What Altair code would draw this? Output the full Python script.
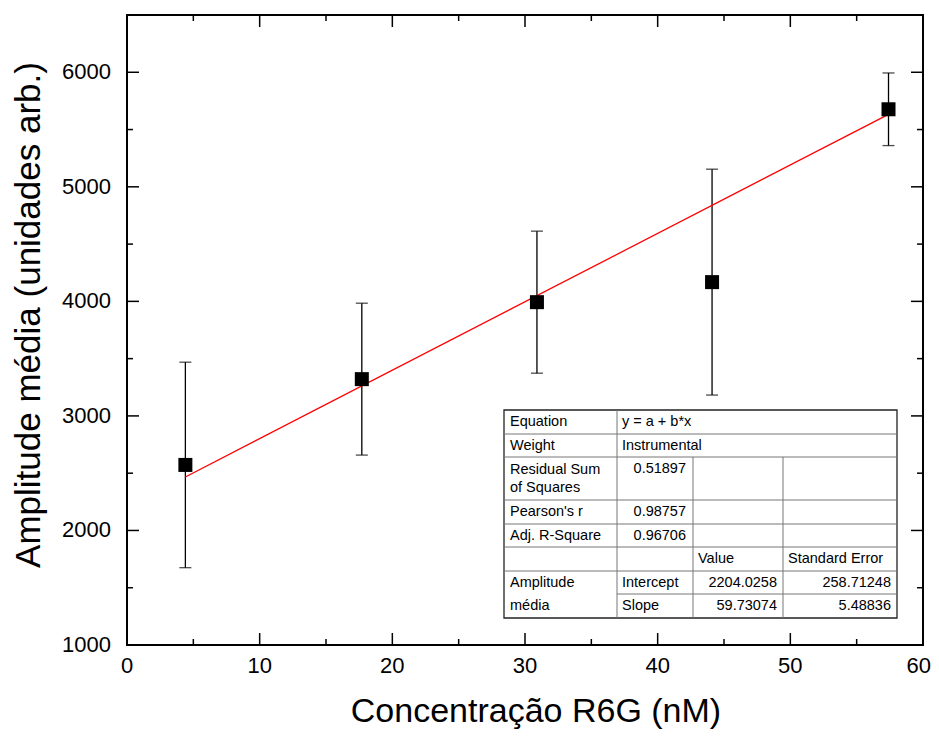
import altair as alt
import pandas as pd

# ---------------- data ----------------
conc = [4.4, 17.7, 30.9, 44.1, 57.4]            # Concentração R6G (nM)
amp = [2572, 3321, 3993, 4168, 5677]            # Amplitude média
amp_err = [897, 663, 620, 986, 317]             # error bars

fit_intercept = 2204.0258
fit_slope = 59.73074
fit_intercept_err = 258.71248
fit_slope_err = 5.48836

x_major = [0, 10, 20, 30, 40, 50, 60]
x_minor = [5, 15, 25, 35, 45, 55]
y_major = [1000, 2000, 3000, 4000, 5000, 6000]
y_minor = [1500, 2500, 3500, 4500, 5500]
x_labels = ["0", "10", "20", "30", "40", "50", "60"]
y_labels = ["1000", "2000", "3000", "4000", "5000", "6000"]

x_title = "Concentração R6G (nM)"
y_title = "Amplitude média (unidades arb.)"

stat_equation = "y = a + b*x"
stat_weight = "Instrumental"
stat_rss = "0.51897"
stat_pearson = "0.98757"
stat_adjr2 = "0.96706"

FONT = "Liberation Sans"
W, H = 796, 630
X0, X1 = 0, 60
Y0, Y1 = 1000, 6500

df = pd.DataFrame({"conc": conc, "amp": amp, "err": amp_err})
df_fit = pd.DataFrame({"conc": [min(conc), max(conc)]})
df_fit["fit"] = fit_intercept + fit_slope * df_fit["conc"]

xs = alt.Scale(domain=[X0, X1], nice=False, zero=False)
ys = alt.Scale(domain=[Y0, Y1], nice=False, zero=False)

err = alt.Chart(df).mark_errorbar(ticks=True, size=12, thickness=1.3, color="black").encode(
    x=alt.X("conc:Q", scale=xs, axis=None),
    y=alt.Y("amp:Q", scale=ys, axis=None),
    yError=alt.YError("err:Q"),
)

fit = alt.Chart(df_fit).mark_line(color="#ff0000", strokeWidth=1.3).encode(
    x=alt.X("conc:Q", scale=xs, axis=None),
    y=alt.Y("fit:Q", scale=ys, axis=None),
)

pts = alt.Chart(df).mark_square(size=196, color="black", opacity=1, filled=True).encode(
    x=alt.X("conc:Q", scale=xs, axis=None),
    y=alt.Y("amp:Q", scale=ys, axis=None),
)

# ---------------- axes: inward ticks on all four sides, labels, titles ----------------
def x_ticks(vals, L):
    d = pd.DataFrame({"v": vals})
    b = alt.Chart(d).mark_rule(color="black", strokeWidth=1.5).encode(
        x=alt.X("v:Q", scale=xs, axis=None), y=alt.value(H), y2=alt.value(H - L))
    t = alt.Chart(d).mark_rule(color="black", strokeWidth=1.5).encode(
        x=alt.X("v:Q", scale=xs, axis=None), y=alt.value(0), y2=alt.value(L))
    return [b, t]

def y_ticks(vals, L):
    d = pd.DataFrame({"v": vals})
    l = alt.Chart(d).mark_rule(color="black", strokeWidth=1.5).encode(
        y=alt.Y("v:Q", scale=ys, axis=None), x=alt.value(0), x2=alt.value(L))
    r = alt.Chart(d).mark_rule(color="black", strokeWidth=1.5).encode(
        y=alt.Y("v:Q", scale=ys, axis=None), x=alt.value(W), x2=alt.value(W - L))
    return [l, r]

tick_layers = x_ticks(x_major, 12) + x_ticks(x_minor, 6) + y_ticks(y_major, 12) + y_ticks(y_minor, 6)

df_xl = pd.DataFrame({"v": x_major, "t": x_labels})
xlab_mid = alt.Chart(df_xl.iloc[:-1]).mark_text(
    font=FONT, fontSize=22, color="black", align="center", baseline="top").encode(
    x=alt.X("v:Q", scale=xs, axis=None), y=alt.value(H + 11), text="t:N")
xlab_last = alt.Chart(df_xl.iloc[-1:]).mark_text(
    font=FONT, fontSize=22, color="black", align="right", baseline="top", dx=8).encode(
    x=alt.X("v:Q", scale=xs, axis=None), y=alt.value(H + 11), text="t:N")

df_yl = pd.DataFrame({"v": y_major, "t": y_labels})
ylab = alt.Chart(df_yl).mark_text(
    font=FONT, fontSize=22, color="black", align="right", baseline="middle").encode(
    y=alt.Y("v:Q", scale=ys, axis=None), x=alt.value(-16), text="t:N")

xtitle = alt.Chart(pd.DataFrame({"t": [x_title]})).mark_text(
    font=FONT, fontSize=34, color="black", align="center", baseline="alphabetic").encode(
    x=alt.value(409), y=alt.value(H + 77), text="t:N")
ytitle = alt.Chart(pd.DataFrame({"t": [y_title]})).mark_text(
    font=FONT, fontSize=35, color="black", align="center", baseline="alphabetic", angle=270).encode(
    x=alt.value(-87), y=alt.value(300), text="t:N")

# ---------------- results table (laid out in plot-area pixels, mapped to data units) ----------------
def px2x(px):
    return X0 + px / W * (X1 - X0)

def py2y(py):
    return Y1 - py / H * (Y1 - Y0)

cols = [377, 490, 566, 656, 770]
rows = [395, 419, 442, 485, 509, 532, 556, 579, 603]

box = alt.Chart(pd.DataFrame({"x1": [px2x(cols[0])], "x2": [px2x(cols[-1])],
                              "y1": [py2y(rows[0])], "y2": [py2y(rows[-1])]})).mark_rect(
    fill="white", stroke="#222222", strokeWidth=1.3).encode(
    x=alt.X("x1:Q", scale=xs, axis=None), x2="x2:Q",
    y=alt.Y("y1:Q", scale=ys, axis=None), y2="y2:Q")

segs = []
for r in rows[1:7]:
    segs.append((cols[0], r, cols[-1], r))
segs.append((cols[1], rows[7], cols[-1], rows[7]))
segs.append((cols[1], rows[0], cols[1], rows[-1]))
segs.append((cols[2], rows[2], cols[2], rows[-1]))
segs.append((cols[3], rows[2], cols[3], rows[-1]))
df_segs = pd.DataFrame([(px2x(a), py2y(b), px2x(c), py2y(d)) for a, b, c, d in segs],
                       columns=["x1", "y1", "x2", "y2"])
grid = alt.Chart(df_segs).mark_rule(color="#777777", strokeWidth=1).encode(
    x=alt.X("x1:Q", scale=xs, axis=None), x2="x2:Q",
    y=alt.Y("y1:Q", scale=ys, axis=None), y2="y2:Q")

lx1, lx2, lx3, lx4 = cols[0] + 6, cols[1] + 5, cols[2] + 5, cols[3] + 5
rx2, rx3, rx4 = cols[2] - 7, cols[3] - 6, cols[4] - 6
rc = [(rows[i] + rows[i + 1]) / 2 for i in range(len(rows) - 1)]

left_cells = [
    ("Equation", lx1, rc[0]), (stat_equation, lx2, rc[0]),
    ("Weight", lx1, rc[1]), (stat_weight, lx2, rc[1]),
    ("Residual Sum", lx1, rows[2] + 13), ("of Squares", lx1, rows[2] + 31),
    ("Pearson's r", lx1, rc[3]),
    ("Adj. R-Square", lx1, rc[4]),
    ("Value", lx3, rc[5]), ("Standard Error", lx4, rc[5]),
    ("Amplitude", lx1, rc[6]), ("Intercept", lx2, rc[6]),
    ("média", lx1, rc[7]), ("Slope", lx2, rc[7]),
]
right_cells = [
    (stat_rss, rx2, rows[2] + 12),
    (stat_pearson, rx2, rc[3]),
    (stat_adjr2, rx2, rc[4]),
    (f"{fit_intercept:.4f}", rx3, rc[6]), (f"{fit_intercept_err:.5f}", rx4, rc[6]),
    (f"{fit_slope:.5f}", rx3, rc[7]), (f"{fit_slope_err:.5f}", rx4, rc[7]),
]

def text_layer(cells, align):
    d = pd.DataFrame([(t, px2x(x), py2y(y)) for t, x, y in cells], columns=["t", "x", "y"])
    return alt.Chart(d).mark_text(align=align, baseline="middle", font=FONT, fontSize=14.5,
                                  color="black").encode(
        x=alt.X("x:Q", scale=xs, axis=None),
        y=alt.Y("y:Q", scale=ys, axis=None),
        text="t:N")

chart = alt.layer(
    err, fit, pts, *tick_layers, xlab_mid, xlab_last, ylab, xtitle, ytitle,
    box, grid, text_layer(left_cells, "left"), text_layer(right_cells, "right"),
).properties(
    width=W, height=H,
    autosize=alt.AutoSizeParams(type="none"),
    padding={"left": 119, "top": 7, "right": 8, "bottom": 85},
    background="white",
).configure_view(stroke="black", strokeWidth=2)

chart.save("out.html", embed_options={"renderer": "svg", "actions": False})
